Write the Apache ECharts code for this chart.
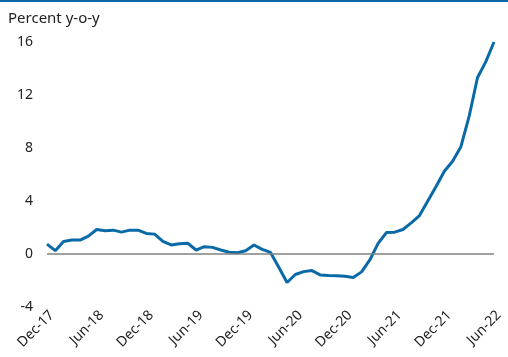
<!DOCTYPE html>
<html lang="en">
<head>
    <meta charset="UTF-8">
    <title>Percent y-o-y</title>
    <script type="text/javascript" src="https://cdn.jsdelivr.net/npm/echarts@6/dist/echarts.min.js"></script>
    <style>
        html, body { margin: 0; padding: 0; background: #fff; }
        #main { width: 508px; height: 357px; border-top: 2px solid #0a6aa8; box-sizing: border-box; }
    </style>
</head>
<body>
<div id="main"></div>

<script type="text/javascript">
    // months, Dec-17 .. Jun-22
    var months = [
        'Dec-17',
        'Jan-18', 'Feb-18', 'Mar-18', 'Apr-18', 'May-18', 'Jun-18',
        'Jul-18', 'Aug-18', 'Sep-18', 'Oct-18', 'Nov-18', 'Dec-18',
        'Jan-19', 'Feb-19', 'Mar-19', 'Apr-19', 'May-19', 'Jun-19',
        'Jul-19', 'Aug-19', 'Sep-19', 'Oct-19', 'Nov-19', 'Dec-19',
        'Jan-20', 'Feb-20', 'Mar-20', 'Apr-20', 'May-20', 'Jun-20',
        'Jul-20', 'Aug-20', 'Sep-20', 'Oct-20', 'Nov-20', 'Dec-20',
        'Jan-21', 'Feb-21', 'Mar-21', 'Apr-21', 'May-21', 'Jun-21',
        'Jul-21', 'Aug-21', 'Sep-21', 'Oct-21', 'Nov-21', 'Dec-21',
        'Jan-22', 'Feb-22', 'Mar-22', 'Apr-22', 'May-22', 'Jun-22'
    ];

    // percent y-o-y
    var values = [
        0.75,
        0.25, 0.95, 1.05, 1.05, 1.35, 1.85,
        1.75, 1.8, 1.65, 1.8, 1.8, 1.55,
        1.5, 0.95, 0.68, 0.78, 0.82, 0.3,
        0.55, 0.5, 0.3, 0.13, 0.1, 0.25,
        0.68, 0.35, 0.12, -1.0, -2.15, -1.55,
        -1.33, -1.25, -1.58, -1.63, -1.65, -1.68,
        -1.78, -1.35, -0.45, 0.8, 1.62, 1.65,
        1.85, 2.35, 2.9, 4.0, 5.1, 6.25,
        7.0, 8.1, 10.4, 13.3, 14.5, 16.0
    ];

    var yMin = -4, yMax = 16, yStep = 4;

    var myChart = echarts.init(document.getElementById('main'));

    var option = {
        animation: false,
        textStyle: { fontFamily: 'Noto Sans' },
        title: {
            text: 'Percent y-o-y',
            left: 3,
            top: 4,
            textStyle: { fontSize: 15, fontWeight: 'normal', color: '#222', fontFamily: 'Noto Sans' }
        },
        grid: { left: 47, right: 14, top: 40, bottom: 50 },
        xAxis: {
            type: 'category',
            data: months,
            boundaryGap: false,
            axisLine: { show: false },
            axisTick: { show: false },
            axisLabel: {
                interval: 5,
                rotate: 45,
                margin: 1,
                verticalAlign: 'top',
                fontSize: 14,
                color: '#222',
                fontFamily: 'Noto Sans'
            }
        },
        yAxis: {
            type: 'value',
            min: yMin,
            max: yMax,
            interval: yStep,
            axisLine: { show: false },
            axisTick: { show: false },
            splitLine: { show: false },
            axisLabel: { margin: 14, fontSize: 14, color: '#222', fontFamily: 'Noto Sans' }
        },
        series: [{
            type: 'line',
            data: values,
            showSymbol: false,
            lineStyle: { color: '#0a6aa8', width: 3 },
            itemStyle: { color: '#0a6aa8' },
            markLine: {
                silent: true,
                symbol: 'none',
                label: { show: false },
                lineStyle: { color: '#808080', width: 1.5, type: 'solid' },
                data: [{ yAxis: 0 }]
            },
            z: 3
        }]
    };

    myChart.setOption(option);
</script>
</body>
</html>
